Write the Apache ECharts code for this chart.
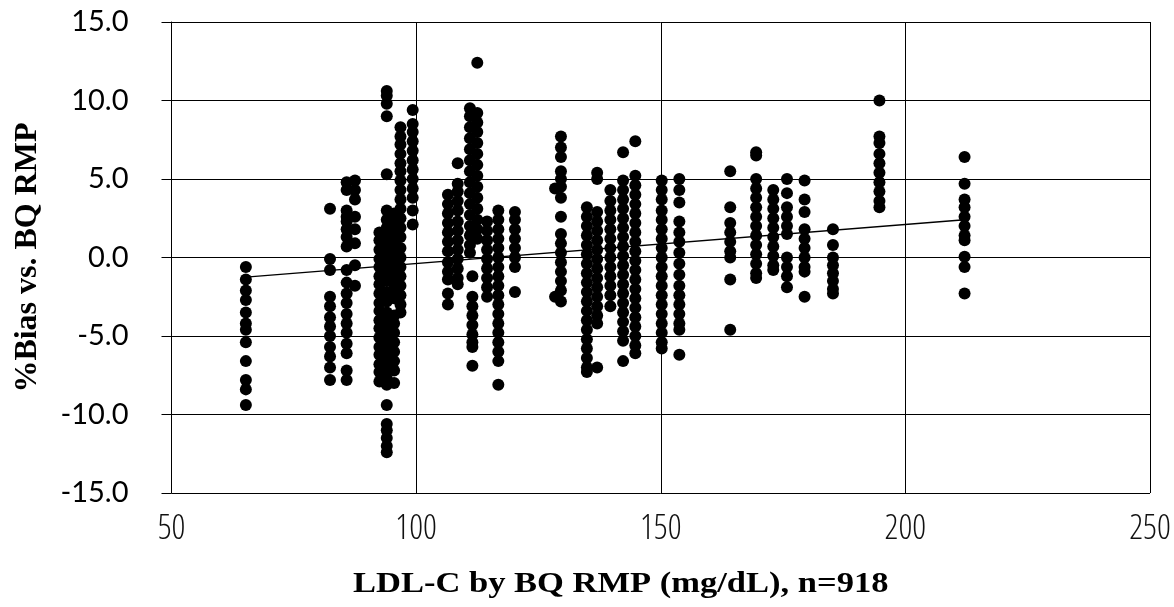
<!DOCTYPE html>
<html>
<head>
<meta charset="utf-8">
<script src="https://cdn.jsdelivr.net/npm/echarts@6/dist/echarts.min.js"></script>
<style>
  html, body { margin: 0; padding: 0; background: #fff; }
  #chart { width: 1174px; height: 607px; }
</style>
</head>
<body>
<div id="chart"></div>
<script>
// ---- Data ----
const xTitle = 'LDL-C by BQ RMP (mg/dL), n=918';
const yTitle = '%Bias vs. BQ RMP';
const xTicks = [50, 100, 150, 200, 250];
const yTicks = [-15, -10, -5, 0, 5, 10, 15];

// x value (LDL-C) of each vertical group of points
const groupX = [
  65.2, 82.4, 85.8, 87.5, 92.5, 94.0, 95.5, 96.8, 99.3,
  106.5, 108.5, 111.0, 112.5, 111.5, 114.5, 116.8, 120.2,
  129.6, 128.4, 134.9, 137.0, 139.7, 142.3, 144.8, 150.2, 153.8,
  164.2, 169.5, 173.0, 175.8, 179.4, 185.2, 194.7, 212.1
];
// %Bias values of each group
const groupY = [
  [-0.6, -1.4, -2.1, -2.7, -3.5, -4.2, -4.6, -5.4, -6.6, -7.8, -8.4, -9.4],
  [3.1, -0.1, -0.8, -2.5, -3.1, -3.8, -4.4, -5.0, -5.7, -6.3, -7.0, -7.8],
  [4.8, 4.3, 3.0, 2.6, 2.3, 1.8, 1.3, 0.7, -0.8, -1.6, -2.3, -2.9, -3.6, -4.2, -4.8, -5.5, -6.1, -7.2, -7.8],
  [4.9, 4.3, 3.7, 2.6, 1.8, 0.9, -0.5, -1.8],
  [1.6, 1.1, 0.5, -0.1, -0.6, -1.2, -1.7, -2.3, -2.9, -3.4, -4.0, -4.5, -5.1, -5.7, -6.2, -6.8, -7.3, -7.9],
  [10.6, 10.3, 9.8, 9.0, 5.3, 3.0, 2.4, 1.9, 1.4, 0.8, 0.3, -0.3, -0.9, -1.5, -2.2, -2.8, -3.5, -4.1, -4.7, -5.3, -5.9, -6.5, -7.1, -7.7, -8.1, -9.4, -10.6, -11.0, -11.5, -12.0, -12.4],
  [2.8, 2.2, 1.6, 1.0, 0.4, -0.2, -0.8, -1.4, -2.0, -2.6, -3.7, -4.2, -4.8, -5.4, -6.0, -6.6, -7.2, -8.0],
  [8.3, 7.7, 7.2, 6.6, 6.0, 5.5, 4.9, 4.3, 3.7, 3.1, 2.5, 1.9, 1.3, 0.6, 0.0, -0.6, -1.2, -1.8, -2.4, -3.0, -3.5],
  [9.4, 8.5, 8.0, 7.4, 6.8, 6.2, 5.6, 5.0, 4.4, 3.8, 3.0, 2.1],
  [4.0, 3.4, 2.8, 2.2, 1.6, 1.0, 0.4, -0.3, -0.9, -1.4, -2.3, -3.0],
  [6.0, 4.7, 4.2, 3.6, 3.0, 2.3, 1.7, 1.1, 0.5, -0.1, -0.7, -1.3, -1.7],
  [9.5, 9.0, 8.3, 7.6, 6.9, 6.2, 5.5, 4.8, 4.1, 3.4, 2.7, 2.0, 1.4, 0.8, 0.3],
  [12.4, 9.2, 8.6, 8.0, 7.3, 6.6, 5.9, 5.2, 4.5, 3.8, 3.1, 2.4, 1.8, 1.2],
  [-1.2, -2.5, -3.1, -3.7, -4.3, -4.9, -5.4, -5.7, -6.9],
  [2.3, 1.7, 1.1, 0.5, -0.1, -0.7, -1.3, -1.9, -2.5],
  [3.0, 2.4, 1.8, 1.2, 0.6, 0.0, -0.6, -1.2, -1.8, -2.4, -3.0, -3.6, -4.2, -4.8, -5.4, -6.0, -6.6, -8.1],
  [2.9, 2.4, 1.8, 1.2, 0.6, 0.0, -0.6, -2.2],
  [7.7, 7.0, 6.4, 5.5, 5.0, 4.5, 3.8, 2.6, 1.5, 0.9, 0.3, -0.3, -0.9, -1.5, -2.1, -2.8],
  [4.4, -2.5],
  [3.2, 2.6, 2.0, 1.4, 0.8, 0.2, -0.4, -1.0, -1.6, -2.2, -2.8, -3.4, -4.0, -4.6, -5.2, -5.8, -6.4, -7.0, -7.3],
  [5.4, 5.0, 2.9, 2.3, 1.7, 1.1, 0.5, -0.1, -0.7, -1.3, -1.9, -2.5, -3.1, -3.7, -4.2, -7.0],
  [4.3, 3.6, 3.0, 2.4, 1.8, 1.2, 0.6, 0.0, -0.6, -1.2, -1.8, -2.4, -3.1],
  [6.7, 4.9, 4.3, 3.7, 3.1, 2.5, 1.9, 1.3, 0.7, 0.1, -0.5, -1.1, -1.7, -2.3, -2.9, -3.5, -4.1, -4.7, -5.3, -6.6],
  [7.4, 5.2, 4.6, 4.0, 3.4, 2.8, 2.2, 1.6, 1.0, 0.4, -0.2, -0.8, -1.4, -2.0, -2.6, -3.2, -3.8, -4.4, -5.0, -5.6, -6.1],
  [4.9, 4.3, 3.7, 3.0, 2.4, 1.8, 1.2, 0.6, 0.0, -0.6, -1.2, -1.8, -2.4, -3.0, -3.6, -4.2, -4.8, -5.4, -5.8],
  [5.0, 4.3, 3.5, 2.3, 1.6, 1.0, 0.3, -0.4, -1.1, -1.8, -2.4, -3.0, -3.6, -4.2, -4.6, -6.2],
  [5.5, 3.2, 2.2, 1.6, 1.0, 0.4, 0.0, -1.4, -4.6],
  [6.7, 6.5, 5.0, 4.4, 3.8, 3.2, 2.6, 2.0, 1.4, 0.8, 0.2, -0.4, -1.0, -1.3],
  [4.3, 3.7, 3.1, 2.5, 1.9, 1.3, 0.7, 0.1, -0.5, -0.8],
  [5.0, 4.1, 3.2, 2.6, 2.0, 1.5, 0.0, -0.6, -1.2, -1.9],
  [4.9, 3.7, 2.9, 1.8, 1.2, 0.6, 0.0, -0.6, -0.9, -2.5],
  [1.8, 0.8, 0.0, -0.5, -1.0, -1.5, -2.0, -2.3],
  [10.0, 7.7, 7.3, 6.6, 6.0, 5.4, 4.8, 4.2, 3.6, 3.2],
  [6.4, 4.7, 3.7, 3.2, 2.6, 2.0, 1.4, 1.1, 0.05, -0.6, -2.3]
];
// linear trend line end points
const trendX = [65.2, 212.1];
const trendY = [-1.25, 2.4];

// ---- Build chart ----
const points = [];
groupX.forEach((x, i) => groupY[i].forEach(y => points.push([x, y])));
const trend = trendX.map((x, i) => [x, trendY[i]]);

const chart = echarts.init(document.getElementById('chart'), null, { renderer: 'canvas' });
chart.setOption({
  animation: false,
  backgroundColor: '#ffffff',
  grid: { left: 171.5, right: 24, top: 22, bottom: 114, containLabel: false },
  graphic: [{
    type: 'text',
    left: 353, top: 570,
    scaleX: 1.19,
    style: {
      text: xTitle,
      font: 'bold 29px "Liberation Serif"',
      fill: '#000'
    }
  }],
  xAxis: {
    type: 'value',
    min: xTicks[0], max: xTicks[xTicks.length - 1], interval: 50,
    axisLine: { show: true, lineStyle: { color: '#000', width: 1 } },
    axisTick: { show: false },
    splitLine: { show: true, lineStyle: { color: '#000', width: 1 } },
    axisLabel: {
      margin: 19,
      fontStyle: 'condensed',
      fontWeight: 300,
      fontFamily: '"Open Sans", Roboto, sans-serif',
      fontSize: 34, color: '#111'
    }
  },
  yAxis: {
    type: 'value',
    min: yTicks[0], max: yTicks[yTicks.length - 1], interval: 5,
    name: yTitle,
    nameLocation: 'middle', nameRotate: 90, nameGap: 128,
    nameTextStyle: { fontFamily: 'Liberation Serif', fontWeight: 'bold', fontSize: 32, color: '#000' },
    axisLine: { show: true, lineStyle: { color: '#000', width: 1 } },
    axisTick: { show: true, inside: false, length: 10, lineStyle: { color: '#000', width: 1 } },
    splitLine: { show: true, lineStyle: { color: '#000', width: 1 } },
    axisLabel: {
      margin: 43,
      formatter: v => v.toFixed(1),
      fontFamily: 'Lato, "Open Sans", sans-serif',
      fontSize: 29, color: '#000'
    }
  },
  series: [
    {
      type: 'line',
      data: trend,
      symbol: 'none',
      lineStyle: { color: '#000', width: 1.5 },
      z: 2
    },
    {
      type: 'scatter',
      data: points,
      symbol: 'circle',
      symbolSize: 12,
      itemStyle: { color: '#000', opacity: 1 },
      z: 3
    }
  ]
});
</script>
</body>
</html>
